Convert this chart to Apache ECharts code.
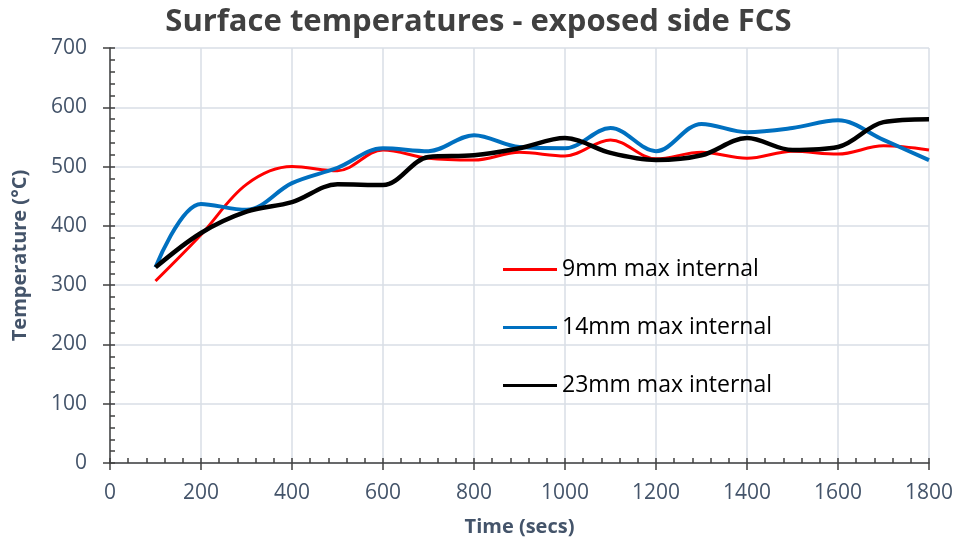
<!DOCTYPE html>
<html>
<head>
<meta charset="utf-8">
<script src="https://cdn.jsdelivr.net/npm/echarts@6/dist/echarts.min.js"></script>
<style>
  html, body { margin: 0; padding: 0; background: #fff; }
  #chart { width: 957px; height: 544px; }
</style>
</head>
<body>
<div id="chart"></div>
<script>
  // time in seconds
  const times = [100, 200, 300, 400, 500, 600, 700, 800, 900, 1000, 1100, 1200, 1300, 1400, 1500, 1600, 1700, 1800];
  const temp9mm = [307, 385, 470, 500, 493, 528, 514, 511, 524, 518, 545, 513, 524, 514, 526, 521, 535, 528];
  const temp14mm = [330, 437, 427, 472, 498, 531, 526, 553, 533, 531, 565, 526, 572, 558, 565, 578, 545, 511];
  const temp23mm = [330, 388, 424, 440, 470, 469, 516, 519, 531, 548, 523, 511, 519, 548, 528, 533, 575, 580];
  const seriesNames = ['9mm max internal', '14mm max internal', '23mm max internal'];

  const font = '"Open Sans", sans-serif';
  const labelColor = '#44546A';
  const axisColor = '#404040';
  const gridColor = '#D9DEE6';

  function pairs(vals) {
    return times.map((t, i) => [t, vals[i]]);
  }

  let myChart = echarts.init(document.getElementById('chart'));
  myChart.setOption({
    animation: false,
    title: {
      text: 'Surface temperatures - exposed side FCS',
      left: 'center',
      top: 2,
      textStyle: { fontFamily: font, fontSize: 31, fontWeight: 'bold', color: '#404040' }
    },
    grid: { left: 110, right: 28, top: 48, bottom: 81 },
    legend: {
      orient: 'vertical',
      left: 498,
      top: 253,
      icon: 'rect',
      itemWidth: 54,
      itemHeight: 3,
      itemGap: 35,
      data: seriesNames,
      textStyle: { fontFamily: font, fontSize: 23, color: '#000' }
    },
    xAxis: [
      {
        type: 'value',
        min: 0, max: 1800, interval: 200,
        position: 'bottom',
        name: 'Time (secs)',
        nameLocation: 'middle',
        nameGap: 54,
        nameTextStyle: { fontFamily: font, fontSize: 20, fontWeight: 'bold', color: labelColor },
        axisLine: { show: true, lineStyle: { color: axisColor, width: 1.5 } },
        axisTick: { show: true, inside: false, length: 7, lineStyle: { color: axisColor, width: 1.5 } },
        axisLabel: { fontFamily: font, fontSize: 21, color: labelColor, margin: 20, formatter: v => String(v) },
        splitLine: { show: true, lineStyle: { color: gridColor, width: 1.5 } }
      },
      {
        // second copy of the x axis: ticks pointing up into the plot
        type: 'value',
        min: 0, max: 1800, interval: 200,
        position: 'bottom',
        axisLine: { show: false },
        axisTick: { show: true, inside: true, length: 5, lineStyle: { color: axisColor, width: 1.5 } },
        minorTick: { show: true, splitNumber: 5, length: 5, lineStyle: { color: axisColor, width: 1.5 } },
        axisLabel: { show: false },
        splitLine: { show: false }
      }
    ],
    yAxis: [
      {
        type: 'value',
        min: 0, max: 700, interval: 100,
        position: 'left',
        name: 'Temperature (°C)',
        nameLocation: 'middle',
        nameGap: 80,
        nameTextStyle: { fontFamily: font, fontSize: 20, fontWeight: 'bold', color: labelColor },
        axisLine: { show: true, lineStyle: { color: axisColor, width: 1.5 } },
        axisTick: { show: true, inside: false, length: 7, lineStyle: { color: axisColor, width: 1.5 } },
        axisLabel: { fontFamily: font, fontSize: 21, color: labelColor, margin: 23 },
        splitLine: { show: true, lineStyle: { color: gridColor, width: 1.5 } }
      },
      {
        // second copy of the y axis: ticks pointing right into the plot
        type: 'value',
        min: 0, max: 700, interval: 100,
        position: 'left',
        axisLine: { show: false },
        axisTick: { show: true, inside: true, length: 5, lineStyle: { color: axisColor, width: 1.5 } },
        minorTick: { show: true, splitNumber: 5, length: 5, lineStyle: { color: axisColor, width: 1.5 } },
        axisLabel: { show: false },
        splitLine: { show: false }
      }
    ],
    series: [
      {
        name: seriesNames[0],
        type: 'line',
        smooth: 0.35,
        symbol: 'none',
        data: pairs(temp9mm),
        itemStyle: { color: '#FF0000' },
        lineStyle: { color: '#FF0000', width: 3 }
      },
      {
        name: seriesNames[1],
        type: 'line',
        smooth: 0.35,
        symbol: 'none',
        data: pairs(temp14mm),
        itemStyle: { color: '#0070C0' },
        lineStyle: { color: '#0070C0', width: 4 }
      },
      {
        name: seriesNames[2],
        type: 'line',
        smooth: 0.35,
        symbol: 'none',
        data: pairs(temp23mm),
        itemStyle: { color: '#000000' },
        lineStyle: { color: '#000000', width: 4.5 }
      }
    ]
  });
</script>
</body>
</html>
